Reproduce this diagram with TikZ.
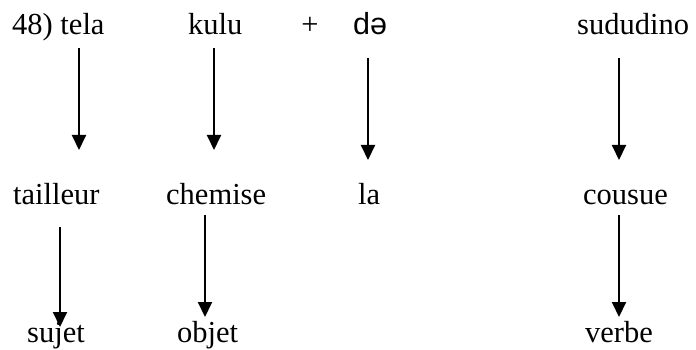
\documentclass[tikz,border=0pt]{standalone}
\usepackage{fontspec}
\setmainfont{Liberation Serif}
\newfontfamily\ipafont{Liberation Sans}
\usetikzlibrary{arrows.meta}
\tikzset{
  % word of the gloss
  word/.style={inner sep=0mm,anchor=base west,font=\fontsize{30.5}{36}\selectfont},
  % down arrow
  darr/.style={line width=2pt,-{Triangle[length=15pt,width=14pt]}},
}
\begin{document}
\begin{tikzpicture}[x=1pt,y=-1pt]
  \useasboundingbox (0,0) rectangle (696,350);
  \node[word] (tela) at (12,35) {48) tela};
  \node[word] (kulu) at (188,35) {kulu};
  \node[word,anchor=base] (plus) at (310,35) {+};
  \node[word] (de) at (353,35) {\ipafont də};
  \node[word] (sududino) at (577,35) {sududino};
  %%%%%%%%%%%%%%%%%%%%%%%%%%%%%%%%%%%%%%%
  \node[word] (tailleur) at (13,204) {tailleur};
  \node[word] (chemise) at (166,204) {chemise};
  \node[word] (la) at (358,204) {la};
  \node[word] (cousue) at (583,204) {cousue};
  %%%%%%%%%%%%%%%%%%%%%%%%%%%%%%%%%%%%%%%
  \node[word] (sujet) at (27,342) {sujet};
  \node[word] (objet) at (177,342) {objet};
  \node[word] (verbe) at (585,342) {verbe};
  %%%%%%%%%%%%%%%%%%%%%%%%%%%%%%%%%%%%%%%
  \coordinate (telaa) at (79,48);   \coordinate (telab) at (79,150);
  \coordinate (kulua) at (214,48);  \coordinate (kulub) at (214,150);
  \coordinate (dea) at (368,58);    \coordinate (deb) at (368,160);
  \coordinate (suda) at (619,58);   \coordinate (sudb) at (619,160);
  \draw[darr] (telaa) -- (telab);
  \draw[darr] (kulua) -- (kulub);
  \draw[darr] (dea) -- (deb);
  \draw[darr] (suda) -- (sudb);
  %%%%%%%%%%%%%%%%%%%%%%%%%%%%%%%%%%%%%%%
  \coordinate (taila) at (60,227);  \coordinate (tailb) at (60,327);
  \coordinate (chema) at (205,215); \coordinate (chemb) at (205,317);
  \coordinate (cousa) at (619,215); \coordinate (cousb) at (619,317);
  \draw[darr] (taila) -- (tailb);
  \draw[darr] (chema) -- (chemb);
  \draw[darr] (cousa) -- (cousb);
\end{tikzpicture}
\end{document}
